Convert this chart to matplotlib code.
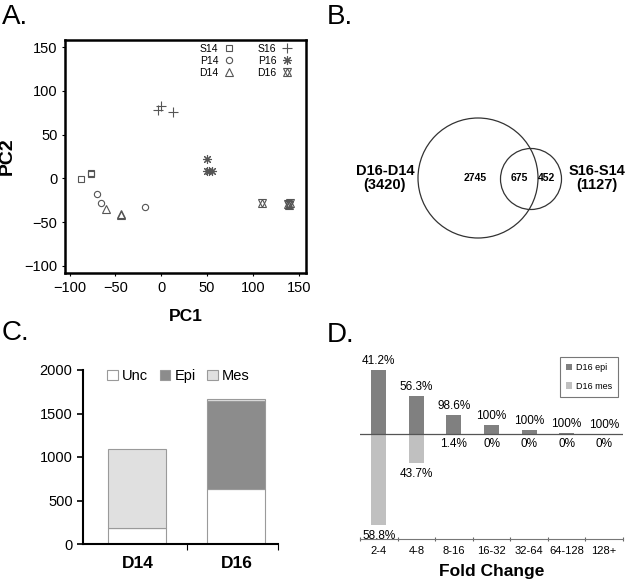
import numpy as np
import matplotlib.pyplot as plt
from matplotlib.patches import Circle

plt.rcParams['font.family'] = ['Liberation Sans', 'DejaVu Sans']

W, H = 627, 584

# ---- A: PCA scores ----
groups = ['S14', 'P14', 'D14', 'S16', 'P16', 'D16']
pc1 = {'S14': [-88, -77, -77], 'P14': [-70, -66, -18], 'D14': [-60, -44, -44],
       'S16': [-4, 0, 13], 'P16': [50, 50, 55, 52], 'D16': [110, 138, 140, 139]}
pc2 = {'S14': [-1, 5, 6], 'P14': [-18, -28, -33], 'D14': [-35, -42, -41],
       'S16': [78, 83, 76], 'P16': [22, 9, 8, 9], 'D16': [-28, -29, -28, -30]}

# ---- B: venn ----
venn_left = 'D16-D14'
venn_right = 'S16-S14'
venn_only_left, venn_both, venn_only_right = 2745, 675, 452

# ---- C: stacked bars ----
days = ['D14', 'D16']
unc = [180, 630]
epi = [0, 1010]
mes = [915, 25]

# ---- D: fold change ----
fold_bins = ['2-4', '4-8', '8-16', '16-32', '32-64', '64-128', '128+']
epi_counts = [480, 285, 142, 67, 30, 8, 2]
mes_counts = [686, 221, 2, 0, 0, 0, 0]


def rect(l, t, r, b):
    return [l / W, 1 - b / H, (r - l) / W, (b - t) / H]


def pct(a, b):
    s = '%.1f' % (100.0 * a / (a + b))
    if s.endswith('.0'):
        s = s[:-2]
    return s + '%'


fig = plt.figure(figsize=(W / 100, H / 100), dpi=100)

# panel letters
for lab, x, y in [('A.', 2, 24), ('B.', 327, 24), ('C.', 2, 340), ('D.', 327, 342)]:
    fig.text(x / W, 1 - y / H, lab, fontsize=20, ha='left', va='baseline')

# ---------------- A ----------------
ax = fig.add_axes(rect(65, 40, 306, 273))
col = '#555555'
styles = {'S14': dict(marker='s', ms=4.5), 'P14': dict(marker='o', ms=4.5),
          'D14': dict(marker='^', ms=5.5), 'S16': dict(marker='+', ms=7),
          'P16': dict(marker=(8, 2, 0), ms=6.5)}
handles = []
for g in groups:
    if g == 'D16':
        h1, = ax.plot(pc1[g], pc2[g], ls='none', marker='^', ms=5.5, mfc='none', mec=col, mew=0.8)
        h2, = ax.plot(pc1[g], pc2[g], ls='none', marker='v', ms=5.5, mfc='none', mec=col, mew=0.8)
        handles.append((h1, h2))
    else:
        h, = ax.plot(pc1[g], pc2[g], ls='none', mfc='none', mec=col, mew=0.8, **styles[g])
        handles.append(h)
ax.set_xlim(-105, 158)
ax.set_ylim(-108, 158)
ax.set_xticks([-100, -50, 0, 50, 100, 150])
ax.set_yticks([-100, -50, 0, 50, 100, 150])
ax.tick_params(labelsize=10.5, length=2.5, width=0.8, pad=3)
for s in ax.spines.values():
    s.set_linewidth(1.8)
ax.set_xlabel('PC1', fontsize=12.5, fontweight='bold', labelpad=10)
ax.set_ylabel('PC2', fontsize=14, fontweight='bold', labelpad=6)
ax.legend(handles, groups, ncol=2, markerfirst=False, frameon=False, fontsize=7.5,
          loc='upper right', bbox_to_anchor=(0.98, 1.025), handlelength=1.0,
          handletextpad=0.5, columnspacing=2.2, labelspacing=0.2)

# ---------------- B ----------------
axb = fig.add_axes([0, 0, 1, 1], zorder=-1)
axb.set_xlim(0, W)
axb.set_ylim(H, 0)
axb.axis('off')
axb.add_patch(Circle((478, 178), 60, fill=False, ec='#333333', lw=0.9))
axb.add_patch(Circle((531, 179), 30.5, fill=False, ec='#333333', lw=0.9))
axb.text(385, 178, '%s\n(%d)' % (venn_left, venn_only_left + venn_both), ha='center', va='center',
         fontsize=10.5, fontweight='bold', linespacing=1.0)
axb.text(597, 178, '%s\n(%d)' % (venn_right, venn_only_right + venn_both), ha='center', va='center',
         fontsize=10.5, fontweight='bold', linespacing=1.0)
axb.text(475, 178, str(venn_only_left), ha='center', va='center', fontsize=7.5, fontweight='bold')
axb.text(519, 178, str(venn_both), ha='center', va='center', fontsize=7.5, fontweight='bold')
axb.text(547, 178, str(venn_only_right), ha='center', va='center', fontsize=7.5, fontweight='bold')

# ---------------- C ----------------
axc = fig.add_axes(rect(83, 370, 278, 544))
x = np.arange(len(days))
bw = 0.585
u = np.array(unc)
e = np.array(epi)
m = np.array(mes)
axc.bar(x, u, bw, color='white', edgecolor='#9a9a9a', lw=0.8, label='Unc')
axc.bar(x, e, bw, bottom=u, color='#8c8c8c', edgecolor='#9a9a9a', lw=0.8, label='Epi')
axc.bar(x, m, bw, bottom=u + e, color='#e0e0e0', edgecolor='#9a9a9a', lw=0.8, label='Mes')
axc.set_xlim(-0.55, 1.42)
axc.set_ylim(0, 2000)
axc.set_yticks([0, 500, 1000, 1500, 2000])
axc.set_xticks(x)
axc.set_xticklabels(days, fontsize=12.5, fontweight='bold')
axc.set_xticks([0.5, 1.42], minor=True)
axc.tick_params(axis='x', which='major', length=0, pad=9)
axc.tick_params(axis='x', which='minor', length=4, width=0.8)
axc.tick_params(axis='y', labelsize=10.5, length=4, width=1.2)
axc.spines['top'].set_visible(False)
axc.spines['right'].set_visible(False)
axc.spines['left'].set_linewidth(1.5)
axc.spines['bottom'].set_linewidth(1.5)
axc.legend(ncol=3, frameon=False, fontsize=10.5, loc='upper center', bbox_to_anchor=(0.49, 1.08),
           handlelength=0.7, handleheight=0.7, handletextpad=0.3, columnspacing=0.8)

# ---------------- D ----------------
axd = fig.add_axes(rect(360, 352, 623, 539))
xd = np.arange(len(fold_bins))
ec = np.array(epi_counts)
mc = np.array(mes_counts)
axd.bar(xd, ec, 0.4, color='#808080', label='D16 epi')
axd.bar(xd, -mc, 0.4, color='#c0c0c0', label='D16 mes')
axd.axhline(0, color='#555555', lw=0.9)
for i in range(len(fold_bins)):
    axd.annotate(pct(ec[i], mc[i]), (xd[i], ec[i]), xytext=(0, 2), textcoords='offset points',
                 ha='center', va='bottom', fontsize=8.5)
    axd.annotate(pct(mc[i], ec[i]), (xd[i], -mc[i]), xytext=(0, -3), textcoords='offset points',
                 ha='center', va='top', fontsize=8.5)
axd.set_xlim(-0.5, len(fold_bins) - 0.5)
axd.set_ylim(-788, 615)
axd.set_yticks([])
axd.set_xticks(xd)
axd.set_xticklabels(fold_bins, fontsize=8)
axd.set_xticks(np.arange(len(fold_bins) + 1) - 0.5, minor=True)
axd.tick_params(axis='x', which='major', length=0, pad=5)
axd.tick_params(axis='x', which='minor', length=3, width=0.8, color='#666666', direction='inout')
for s in ['top', 'right', 'left']:
    axd.spines[s].set_visible(False)
axd.spines['bottom'].set_color('#777777')
axd.spines['bottom'].set_linewidth(0.8)
axd.set_xlabel('Fold Change', fontsize=12.5, fontweight='bold', labelpad=6)
leg = axd.legend(loc='upper right', bbox_to_anchor=(1.0, 1.0), fontsize=6.5, fancybox=False,
                 handlelength=0.7, handleheight=0.7, handletextpad=0.4, labelspacing=1.1,
                 borderpad=0.7)
leg.get_frame().set_edgecolor('#555555')
leg.get_frame().set_linewidth(0.8)

fig.savefig('out.png', dpi=100)
